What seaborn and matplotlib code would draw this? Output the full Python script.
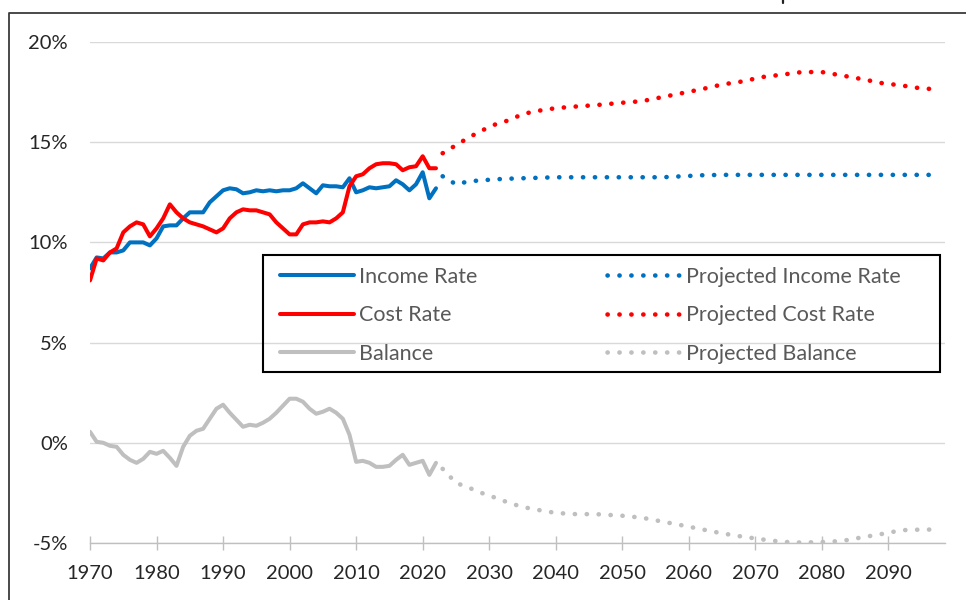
import numpy as np
import pandas as pd
import matplotlib
matplotlib.use("Agg")
import matplotlib.pyplot as plt
import seaborn as sns
from matplotlib.ticker import FuncFormatter, FixedLocator
from matplotlib.patches import Rectangle
from matplotlib.lines import Line2D

# ---------------- data ----------------
hist_years = list(range(1970, 2023))
income_rate = [8.7, 9.25, 9.2, 9.5, 9.5, 9.6, 10.0, 10.0, 10.0, 9.85,
               10.2, 10.8, 10.85, 10.85, 11.2, 11.5, 11.5, 11.5, 12.0, 12.3,
               12.6, 12.7, 12.65, 12.45, 12.5, 12.6, 12.55, 12.6, 12.55, 12.6,
               12.6, 12.7, 12.95, 12.7, 12.45, 12.85, 12.8, 12.8, 12.75, 13.2,
               12.5, 12.6, 12.75, 12.7, 12.75, 12.8, 13.1, 12.9, 12.6, 12.9,
               13.5, 12.2, 12.7]
cost_rate = [8.1, 9.2, 9.1, 9.5, 9.7, 10.5, 10.8, 11.0, 10.9, 10.3,
             10.7, 11.2, 11.9, 11.5, 11.2, 11.0, 10.9, 10.8, 10.65, 10.5,
             10.7, 11.2, 11.5, 11.65, 11.6, 11.6, 11.5, 11.4, 11.0, 10.7,
             10.4, 10.4, 10.9, 11.0, 11.0, 11.05, 11.0, 11.2, 11.5, 12.8,
             13.3, 13.4, 13.7, 13.9, 13.95, 13.95, 13.9, 13.6, 13.75, 13.8,
             14.3, 13.7, 13.7]
balance = [0.55, 0.05, 0.0, -0.15, -0.2, -0.6, -0.85, -1.0, -0.8, -0.45,
           -0.55, -0.4, -0.75, -1.15, -0.2, 0.35, 0.6, 0.7, 1.2, 1.7,
           1.9, 1.5, 1.15, 0.8, 0.9, 0.85, 1.0, 1.2, 1.5, 1.85,
           2.2, 2.2, 2.05, 1.7, 1.45, 1.55, 1.7, 1.5, 1.2, 0.4,
           -0.95, -0.9, -1.0, -1.2, -1.2, -1.15, -0.85, -0.6, -1.1, -1.0,
           -0.9, -1.6, -1.0]

proj_years = [2023, 2025, 2027, 2029, 2031, 2033, 2035, 2037, 2040, 2043,
              2046, 2050, 2053, 2056, 2059, 2062, 2065, 2068, 2071, 2074,
              2077, 2080, 2083, 2086, 2089, 2092, 2095, 2097]
proj_income = [13.3, 12.9, 13.05, 13.1, 13.15, 13.18, 13.2, 13.22, 13.25, 13.25,
               13.25, 13.25, 13.25, 13.25, 13.3, 13.35, 13.37, 13.37, 13.37, 13.37,
               13.37, 13.37, 13.37, 13.37, 13.37, 13.37, 13.37, 13.37]
proj_cost = [14.45, 14.85, 15.25, 15.6, 15.9, 16.1, 16.4, 16.55, 16.7, 16.78,
             16.85, 16.97, 17.05, 17.25, 17.45, 17.65, 17.88, 18.03, 18.25, 18.37,
             18.5, 18.5, 18.33, 18.15, 17.95, 17.83, 17.68, 17.65]
proj_balance = [-1.3, -2.0, -2.25, -2.52, -2.75, -3.0, -3.2, -3.33, -3.5, -3.56,
                -3.56, -3.64, -3.74, -3.93, -4.12, -4.32, -4.52, -4.68, -4.82, -4.94,
                -4.98, -4.95, -4.9, -4.72, -4.55, -4.36, -4.33, -4.33]

y_ticks = [-5, 0, 5, 10, 15, 20]
x_ticks = list(range(1970, 2091, 10))
labels = ["Income Rate", "Cost Rate", "Balance",
          "Projected Income Rate", "Projected Cost Rate", "Projected Balance"]

BLUE = "#0070C0"
RED = "#FF0000"
GRAY = "#BFBFBF"

# ---------------- figure ----------------
sns.set_theme(style="white")
plt.rcParams["font.family"] = ["Lato", "DejaVu Sans"]

W, H = 966, 600
fig = plt.figure(figsize=(W / 100, H / 100), dpi=100)


def fx(px):
    return px / W


def fy(py):
    return 1 - py / H


ax = fig.add_axes([fx(90), fy(543), (945 - 90) / W, (543 - 42) / H])

hist = pd.DataFrame({"year": hist_years, "income": income_rate,
                     "cost": cost_rate, "balance": balance})
proj = pd.DataFrame({"year": proj_years, "income": proj_income,
                     "cost": proj_cost, "balance": proj_balance})

SOLID_LW = 2.9
DOT_LW = 3.3
dot_style = (0, (0.05, 2.55))

for col, color, lab in [("income", BLUE, labels[0]), ("cost", RED, labels[1]),
                        ("balance", GRAY, labels[2])]:
    sns.lineplot(data=hist, x="year", y=col, color=color, lw=SOLID_LW,
                 label=lab, ax=ax)
    ln = ax.lines[-1]
    ln.set_solid_capstyle("round")
    ln.set_solid_joinstyle("round")

for col, color, lab in [("income", BLUE, labels[3]), ("cost", RED, labels[4]),
                        ("balance", GRAY, labels[5])]:
    sns.lineplot(data=proj, x="year", y=col, color=color, lw=DOT_LW,
                 label=lab, ax=ax)
    ln = ax.lines[-1]
    ln.set_linestyle(dot_style)
    ln.set_dash_capstyle("round")

ax.set_xlim(1970, 2098.5)
ax.set_ylim(-5, 20)
ax.set_xlabel("")
ax.set_ylabel("")

ax.yaxis.set_major_locator(FixedLocator(y_ticks))
ax.xaxis.set_major_locator(FixedLocator(x_ticks))
ax.yaxis.set_major_formatter(FuncFormatter(lambda v, p: f"{v:.0f}%"))
ax.xaxis.set_major_formatter(FuncFormatter(lambda v, p: f"{v:.0f}"))

ax.grid(False)
ax.yaxis.grid(True, color="#D9D9D9", lw=1.0)
ax.set_axisbelow(True)
for s in ["left", "right", "top"]:
    ax.spines[s].set_visible(False)
ax.spines["bottom"].set_color(GRAY)
ax.spines["bottom"].set_linewidth(1.0)

ax.tick_params(axis="x", direction="inout", length=10, width=1, color=GRAY,
               labelsize=14.5, labelcolor="#262626", pad=11, bottom=True)
ax.tick_params(axis="y", length=0, labelsize=14.5, labelcolor="#262626", pad=16)

# legend
handles = [Line2D([], [], color=BLUE, lw=SOLID_LW, solid_capstyle="round"),
           Line2D([], [], color=RED, lw=SOLID_LW, solid_capstyle="round"),
           Line2D([], [], color=GRAY, lw=SOLID_LW, solid_capstyle="round"),
           Line2D([], [], color=BLUE, lw=DOT_LW, ls=dot_style, dash_capstyle="round"),
           Line2D([], [], color=RED, lw=DOT_LW, ls=dot_style, dash_capstyle="round"),
           Line2D([], [], color=GRAY, lw=DOT_LW, ls=dot_style, dash_capstyle="round")]
leg = ax.legend(handles=handles, labels=labels, ncol=2, frameon=False,
                loc="upper left", bbox_to_anchor=(fx(257), fy(244)),
                bbox_transform=fig.transFigure, fontsize=15.5,
                handlelength=3.45, handletextpad=0.25, columnspacing=6.0,
                labelspacing=0.86, borderpad=0.55)
for t in leg.get_texts():
    t.set_color("#595959")

fig.patches.append(Rectangle((fx(263), fy(372)), (940 - 263) / W, (372 - 255) / H,
                             transform=fig.transFigure, fill=False,
                             ec="black", lw=1.5, zorder=5))

# outer chart border (top and left visible in crop)
fig.lines.append(Line2D([fx(9), fx(9), fx(970)], [fy(605), fy(13), fy(13)],
                        transform=fig.transFigure, color="#3A3A3A", lw=1.3))
# tiny stroke of the title glyph just above the crop
fig.lines.append(Line2D([fx(783), fx(783)], [fy(-1), fy(3)],
                        transform=fig.transFigure, color="#222222", lw=1.6))

fig.savefig("out.png", dpi=100)
